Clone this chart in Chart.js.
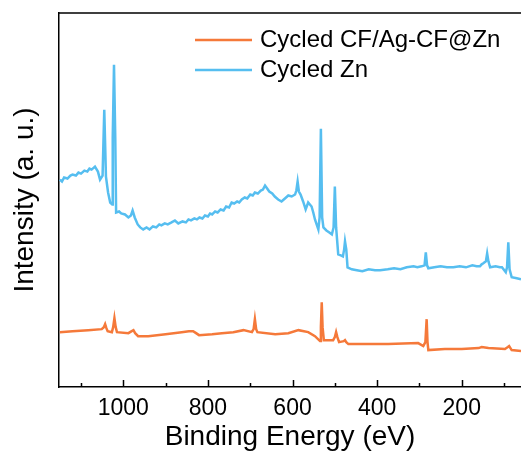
<!DOCTYPE html>
<html>
<head>
<meta charset="utf-8">
<script src="https://cdn.jsdelivr.net/npm/chart.js@4.4.0/dist/chart.umd.min.js"></script>
<style>
  html, body { margin: 0; padding: 0; background: #fff; }
  #wrap { width: 521px; height: 452px; }
</style>
</head>
<body>
<div id="wrap"><canvas id="myChart" width="521" height="452"></canvas></div>
<script>
// series labels and colours
const seriesLabels = ['Cycled CF/Ag-CF@Zn', 'Cycled Zn'];
const seriesColors = ['#F5793A', '#56BEF0'];

// x tick labels (binding energy, eV)
const xTickLabels = [1000, 800, 600, 400, 200];
const xMinorTicks = [1100, 900, 700, 500, 300, 100];

// Cycled Zn (blue), arbitrary units
const znEnergy = [1150, 1145, 1140, 1132, 1125, 1120, 1112, 1106, 1100, 1092, 1085, 1080, 1075, 1067, 1060, 1055, 1049, 1045, 1041, 1036, 1031, 1026, 1025, 1022, 1019, 1017,
  1010, 1005, 996, 988, 982, 978, 973, 966, 960, 953, 945, 938, 930, 922, 915, 910, 902, 895, 886, 878, 870, 860, 852, 846, 840, 832, 826, 820, 813, 807, 800, 795, 790, 783, 777, 770, 763, 757, 750, 744, 738, 731, 726, 720, 713, 707, 700, 694, 689, 682, 675, 670, 665, 660, 655, 648, 642,
  634, 626, 618, 610, 602, 594, 591, 588, 585, 581, 575, 569, 563, 559, 555, 551, 547, 539, 536, 533, 530, 527, 520, 513, 507, 503, 500, 497, 492, 486, 481, 478, 476,
  473, 470, 460, 448, 435, 420, 405, 393, 375, 360, 345, 330, 314, 305, 295, 288, 285, 282, 279, 265, 250, 235, 220, 205, 190, 175, 165, 157, 153, 149, 143, 140, 137, 133, 120, 110, 105, 96, 93, 90, 87, 82, 70, 60];
const znIntensity = [208, 206, 210, 209, 212, 213, 212, 215, 214, 217, 216, 219, 218, 221, 216, 208, 212, 278, 211, 195, 185, 183, 250, 323, 250, 175,
  176, 174, 173, 170, 172, 177, 170, 163, 160, 158, 160, 158, 161, 160, 163, 162, 164, 163, 165, 167, 164, 166, 165, 168, 167, 169, 168, 170, 169, 172, 171, 174, 173, 176, 175, 178, 177, 181, 180, 185, 184, 186, 185, 188, 190, 189, 193, 192, 195, 194, 197, 198, 202, 199, 196, 194, 191,
  188, 186, 189, 192, 191, 193, 197, 206, 196, 193, 186, 178, 185, 183, 181, 175, 168, 158, 170, 259, 170, 160, 157, 155, 153, 160, 201, 160, 133, 132, 131, 138, 146,
  138, 120, 118, 117, 116, 118, 117, 117, 118, 119, 118, 120, 121, 120, 121, 122, 135, 122, 119, 120, 121, 120, 120, 121, 120, 122, 121, 121, 123, 124, 126, 134, 126, 120, 121, 120, 120, 115, 120, 145, 118, 110, 109, 108];

// Cycled CF/Ag-CF@Zn (orange)
const cfEnergy = [1150, 1120, 1083, 1051, 1046, 1043, 1040, 1037, 1027, 1024, 1021, 1018, 1015, 988, 980, 976, 972, 965, 941,
  900, 862, 845, 835, 828, 821, 790, 767, 740, 716, 696, 692, 689, 686, 683, 641, 610, 586, 563, 547, 535, 533, 531, 529, 526,
  504, 500, 497, 494, 490, 479, 476, 473, 468, 420, 374, 303, 291, 286, 283, 281, 279, 240, 200, 160, 153, 137, 98, 91, 88, 85, 82, 60];
const cfIntensity = [55, 56, 57, 58, 60, 63, 59, 56, 55, 60, 69, 60, 55, 54, 56, 57, 54, 51, 51,
  53, 55, 56, 56, 54, 52, 53, 54, 55, 57, 55, 58, 68, 58, 55, 53, 54, 57, 55, 51, 46, 60, 85, 60, 47,
  47, 50, 55, 50, 45, 46, 47, 45, 43, 43, 43, 44, 41, 45, 68, 45, 37, 38, 38, 39, 40, 39, 38, 40, 41, 39, 37, 36];

const toPoints = (xs, ys) => xs.map((x, i) => ({ x: x, y: ys[i] }));

// inward tick marks, top frame line and in-plot legend
const framePlugin = {
  id: 'frame',
  afterDraw(chart) {
    const ctx = chart.ctx;
    const area = chart.chartArea;
    const xs = chart.scales.x;
    ctx.save();
    ctx.strokeStyle = '#000';
    ctx.lineWidth = 1.5;
    ctx.beginPath();
    ctx.moveTo(area.left, area.top);
    ctx.lineTo(area.right, area.top);
    xTickLabels.forEach(v => {
      const px = Math.round(xs.getPixelForValue(v)) + 0.5;
      ctx.moveTo(px, area.bottom);
      ctx.lineTo(px, area.bottom - 7);
    });
    xMinorTicks.forEach(v => {
      const px = Math.round(xs.getPixelForValue(v)) + 0.5;
      ctx.moveTo(px, area.bottom);
      ctx.lineTo(px, area.bottom - 4);
    });
    ctx.stroke();

    // legend
    ctx.font = '24px "Liberation Sans", Arial, sans-serif';
    ctx.textBaseline = 'middle';
    ctx.fillStyle = '#000';
    seriesLabels.forEach((lab, i) => {
      const y = 40 + i * 30;
      ctx.strokeStyle = seriesColors[i];
      ctx.lineWidth = 2.5;
      ctx.beginPath();
      ctx.moveTo(195, y);
      ctx.lineTo(252, y);
      ctx.stroke();
      ctx.fillText(lab, 260, y);
    });
    ctx.restore();
  }
};

new Chart(document.getElementById('myChart'), {
  type: 'line',
  data: {
    datasets: [
      {
        label: seriesLabels[0],
        data: toPoints(cfEnergy, cfIntensity),
        borderColor: seriesColors[0],
        borderWidth: 2.5,
        pointRadius: 0,
        tension: 0
      },
      {
        label: seriesLabels[1],
        data: toPoints(znEnergy, znIntensity),
        borderColor: seriesColors[1],
        borderWidth: 2.5,
        pointRadius: 0,
        tension: 0
      }
    ]
  },
  options: {
    responsive: false,
    animation: false,
    layout: { padding: { top: 13, right: 0, left: 0, bottom: 0 } },
    plugins: {
      legend: { display: false },
      tooltip: { enabled: false }
    },
    scales: {
      x: {
        type: 'linear',
        reverse: true,
        min: 60,
        max: 1152,
        afterBuildTicks: scale => { scale.ticks = xTickLabels.map(v => ({ value: v })); },
        grid: { display: false, drawTicks: false },
        border: { color: '#000', width: 1.5 },
        ticks: {
          color: '#000',
          padding: 10,
          maxRotation: 0,
          callback: v => String(v),
          font: { family: '"Liberation Sans", Arial, sans-serif', size: 23, lineHeight: 1.0 }
        },
        title: {
          display: true,
          text: 'Binding Energy (eV)',
          color: '#000',
          padding: { top: 0, bottom: 8 },
          font: { family: '"Liberation Sans", Arial, sans-serif', size: 28, lineHeight: 0.5 }
        }
      },
      y: {
        min: 0,
        max: 375,
        afterFit: scale => { scale.width = 59; },
        grid: { display: false },
        border: { color: '#000', width: 1.5 },
        ticks: { display: false },
        title: {
          display: true,
          text: 'Intensity (a. u.)',
          color: '#000',
          padding: { top: 8, bottom: 0 },
          font: { family: '"Liberation Sans", Arial, sans-serif', size: 28 }
        }
      }
    }
  },
  plugins: [framePlugin]
});
</script>
</body>
</html>
